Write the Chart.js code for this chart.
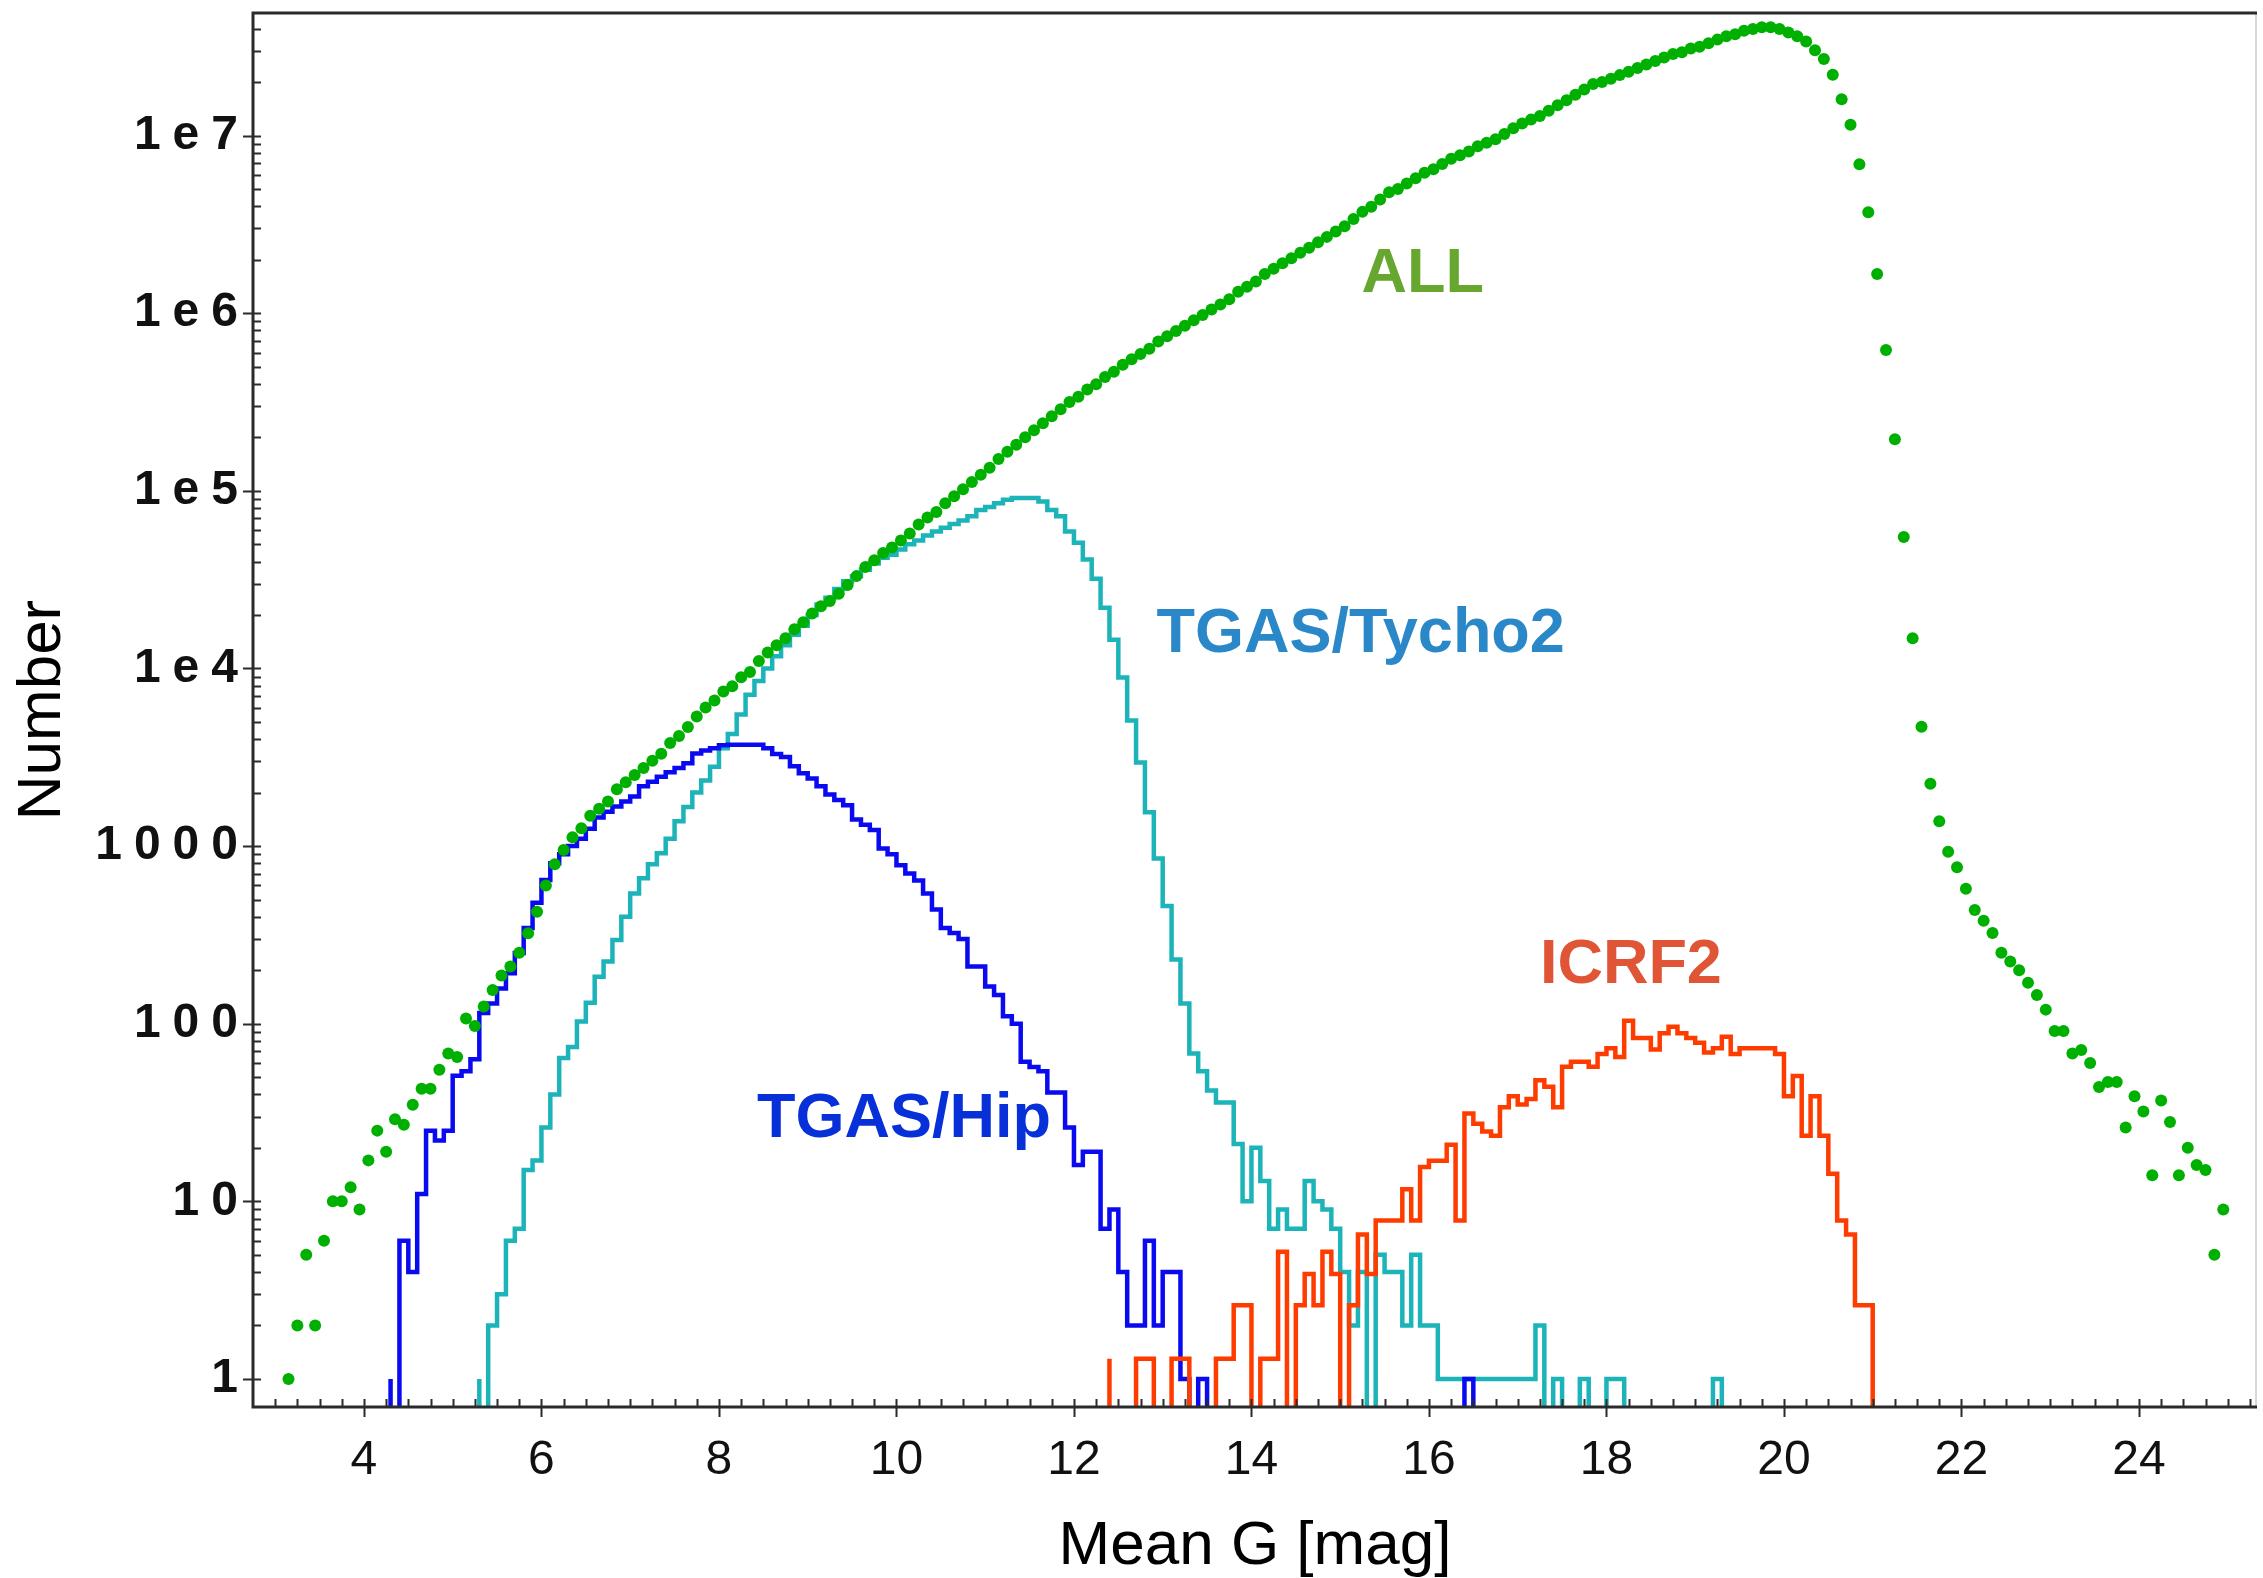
<!DOCTYPE html>
<html>
<head>
<meta charset="utf-8">
<script src="https://cdn.jsdelivr.net/npm/chart.js@4.4.1/dist/chart.umd.min.js"></script>
<style>
  html, body { margin: 0; padding: 0; background: #fff; }
  canvas { display: block; }
</style>
</head>
<body>
<canvas id="mag-hist" width="2263" height="1578"></canvas>
<script>
// histogram bins are 0.1 mag wide
const binWidth = 0.1;
// empty bins are drawn at this level, just under the axis
const logFloor = 0.5;

// ALL sources (dots at bin centres)
const allStart = 3.15;
const allCounts = [
  1, 2, 5, 2, 6, 10, 10, 12, 9, 17, 25, 19, 29, 27, 35, 43, 43, 55, 68, 65,
  107, 97, 125, 155, 187, 210, 251, 323, 427, 600, 790, 950, 1120, 1260, 1480, 1620, 1780, 2090, 2290, 2510,
  2750, 3020, 3310, 3800, 4170, 4680, 5370, 6030, 6610, 7410, 7940, 8910, 9550, 11000, 12300, 13500, 14800, 16600, 18200, 20400,
  22400, 24000, 26300, 29500, 33100, 37200, 40700, 44700, 47900, 52500, 57500, 64600, 70800, 75900, 85100, 93300, 102000, 112000, 123000, 135000,
  151000, 166000, 182000, 200000, 219000, 240000, 263000, 288000, 316000, 339000, 372000, 398000, 437000, 468000, 513000, 550000, 589000, 631000, 692000, 741000,
  794000, 851000, 912000, 977000, 1.05e6, 1.12e6, 1.20e6, 1.32e6, 1.41e6, 1.51e6, 1.66e6, 1.78e6, 1.91e6, 2.04e6, 2.19e6, 2.34e6, 2.51e6, 2.69e6, 2.88e6, 3.09e6,
  3.39e6, 3.72e6, 3.98e6, 4.37e6, 4.79e6, 5.01e6, 5.37e6, 5.75e6, 6.17e6, 6.46e6, 6.92e6, 7.41e6, 7.76e6, 8.13e6, 8.71e6, 9.12e6, 9.55e6, 1.02e7, 1.10e7, 1.17e7,
  1.23e7, 1.29e7, 1.38e7, 1.48e7, 1.58e7, 1.70e7, 1.82e7, 1.95e7, 2.00e7, 2.09e7, 2.19e7, 2.29e7, 2.40e7, 2.51e7, 2.63e7, 2.75e7, 2.88e7, 2.95e7, 3.09e7, 3.16e7,
  3.31e7, 3.47e7, 3.63e7, 3.72e7, 3.89e7, 3.98e7, 4.07e7, 4.07e7, 3.98e7, 3.80e7, 3.63e7, 3.39e7, 3.02e7, 2.70e7, 2.20e7, 1.60e7, 1.15e7, 6.9e6, 3.7e6, 1.66e6,
  6.2e5, 1.95e5, 5.5e4, 14800, 4700, 2240, 1380, 930, 760, 575, 437, 380, 324, 251, 224, 200, 170, 145, 120, 91,
  91, 68, 71, 60, 44, 47, 47, 26, 39, 32, 14, 37, 28, 14, 20, 16, 15, 5, 9
];

// TGAS / Tycho2 (bin left edges from tychoStart)
const tychoStart = 5.3;
const tychoCounts = [
  1, 0, 2, 3, 6, 7, 15, 17, 26, 40, 64, 74, 103, 131, 184, 224, 296,
  400, 540, 660, 790, 910, 1100, 1380, 1660, 2000, 2340,
  2800, 3550, 4270, 5500, 7100, 8500, 10000, 11700, 13500, 15500,
  17400, 20000, 22900, 25000, 28000, 31000, 33000, 36000, 39000, 42000,
  43600, 46800, 50000, 52500, 56000, 59000, 62000, 65000, 68000, 72000,
  78000, 81000, 85000, 89000, 91000, 91000, 91000, 87000, 78000, 72000,
  59000, 51000, 41000, 32000, 22000, 14500, 8900, 5100, 2950, 1550,
  850, 460, 230, 130, 68, 54, 42, 36, 36, 21,
  10, 20, 13, 7, 9, 7, 7, 13, 10, 9,
  7, 4, 2, 4, 0, 5, 4, 4, 2, 5,
  2, 2, 1, 1, 1, 1, 1, 1, 1, 1,
  1, 1, 1, 2, 0, 1, 0, 0, 1, 0,
  0, 1, 1, 0, 0, 0, 0, 0, 0, 0,
  0, 0, 0, 1
];

// TGAS / Hipparcos
const hipStart = 4.3;
const hipCounts = [
  1, 0, 6, 4, 11, 25, 22,
  25, 51, 54, 63, 115, 130, 158, 192, 250, 346,
  480, 645, 800, 900, 1000, 1100, 1250, 1450, 1560, 1670,
  1780, 1900, 2170, 2300, 2460, 2600, 2750, 2930, 3320, 3450,
  3550, 3700, 3720, 3720, 3720, 3720, 3550, 3300, 3170, 2810,
  2570, 2400, 2170, 1950, 1820, 1700, 1410, 1320, 1230, 970,
  900, 780, 700, 640, 540, 440, 346, 324, 300, 210,
  210, 162, 145, 110, 100, 61, 57, 54, 41, 41,
  26, 16, 19, 19, 7, 9, 4, 2, 2, 6,
  2, 4, 4, 1, 0, 1,
  0, 0, 0, 0, 0, 0, 0, 0, 0, 0,
  0, 0, 0, 0, 0, 0, 0, 0, 0, 0,
  0, 0, 0, 0, 0, 0, 0, 0, 0,
  1
];

// ICRF2 quasars
const icrfStart = 12.4;
const icrfCounts = [
  1.3, 0, 0, 0, 1.3, 1.3,
  0, 0, 1.3, 1.3, 0, 0, 0, 1.3, 1.3, 2.6,
  2.6, 0, 1.3, 1.3, 5.2, 0, 2.6, 3.9, 2.6, 5.2,
  3.9, 0, 2.6, 6.5, 3.9, 7.8, 7.8, 7.8, 11.7, 7.8,
  15.6, 16.9, 16.9, 20.8, 7.8, 31.2, 27.3, 24.7, 23.4, 33.8,
  39, 35.1, 37.7, 48.1, 44.2, 33.8, 57.2, 61.1, 61.1, 57.2,
  67.6, 72.8, 65, 104, 83.2, 83.2, 71.5, 88.4, 96.2, 88.4,
  83.2, 78, 68.9, 72.8, 84.5, 67.6, 72.8, 72.8, 72.8, 72.8,
  67.6, 39, 50.7, 23.4, 39, 23.4, 14.3, 7.8, 6.5, 2.6,
  2.6
];

// axes
const xTicks = [4, 6, 8, 10, 12, 14, 16, 18, 20, 22, 24];
const yTicks = [1, 10, 100, 1000, 1e4, 1e5, 1e6, 1e7];
const yTickText = ['1', '10', '100', '1000', '1e4', '1e5', '1e6', '1e7'];

// in-plot labels
const labelText = ['ALL', 'TGAS/Tycho2', 'ICRF2', 'TGAS/Hip'];
const labelMag = [15.24, 12.93, 17.25, 8.43];
const labelCount = [1.32e6, 1.245e4, 170, 23];
const labelColor = ['#67a72f', '#2b88c8', '#e05535', '#0730d9'];

const fontFamily = '"Liberation Sans", Arial, Helvetica, sans-serif';

function dotPoints(start, counts) {
  return counts.map((c, i) => ({x: +(start + i * binWidth).toFixed(2), y: c}));
}

// step outline of a histogram: rise at first edge, drop at last edge
function histPoints(start, counts) {
  const pts = [{x: start, y: logFloor}];
  counts.forEach((c, i) => pts.push({x: +(start + i * binWidth).toFixed(2), y: c > 0 ? c : logFloor}));
  pts.push({x: +(start + counts.length * binWidth).toFixed(2), y: logFloor});
  return pts;
}

// frame, inward tick marks and the coloured labels
const decorations = {
  id: 'decorations',
  afterDatasetsDraw(chart) {
    const {ctx, chartArea: a, scales: {x, y}} = chart;
    ctx.save();

    ctx.strokeStyle = '#d8d8d8';
    ctx.lineWidth = 2;
    ctx.beginPath();
    ctx.moveTo(a.right - 1, a.top);
    ctx.lineTo(a.right - 1, a.bottom);
    ctx.stroke();

    ctx.strokeStyle = '#2b2b2b';
    ctx.lineWidth = 3;
    ctx.beginPath();
    ctx.moveTo(a.right, a.top);
    ctx.lineTo(a.left, a.top);
    ctx.lineTo(a.left, a.bottom);
    ctx.lineTo(a.right, a.bottom);
    ctx.stroke();

    ctx.lineWidth = 2;
    ctx.beginPath();
    for (let k = 12; k <= 101; k++) {
      const v = k * 0.25;
      if (v < x.min || v > x.max) continue;
      const px = Math.round(x.getPixelForValue(v)) + 0.5;
      const major = xTicks.includes(v);
      ctx.moveTo(px, a.bottom - 8);
      ctx.lineTo(px, a.bottom + (major ? 10 : 0));
    }
    for (let d = 0; d <= 7; d++) {
      for (let m = 1; m <= 9; m++) {
        const v = m * Math.pow(10, d);
        if (v < y.min || v > y.max) continue;
        const py = Math.round(y.getPixelForValue(v)) + 0.5;
        ctx.moveTo(a.left - (m === 1 ? 10 : 0), py);
        ctx.lineTo(a.left + 8, py);
      }
    }
    ctx.stroke();

    ctx.font = 'bold 63px ' + fontFamily;
    ctx.textAlign = 'left';
    ctx.textBaseline = 'alphabetic';
    labelText.forEach((t, i) => {
      ctx.fillStyle = labelColor[i];
      ctx.fillText(t, x.getPixelForValue(labelMag[i]), y.getPixelForValue(labelCount[i]));
    });
    ctx.restore();
  }
};

const ctx = document.getElementById('mag-hist').getContext('2d');

new Chart(ctx, {
  type: 'line',
  data: {
    datasets: [
      {
        label: 'ALL',
        data: dotPoints(allStart, allCounts),
        showLine: false,
        pointRadius: 6,
        pointBorderWidth: 0,
        pointBackgroundColor: '#00b000',
        pointBorderColor: '#00b000',
      },
      {
        label: 'ICRF2',
        data: histPoints(icrfStart, icrfCounts),
        stepped: 'after',
        borderColor: '#ff3c00',
        borderWidth: 4.5,
        pointRadius: 0,
      },
      {
        label: 'TGAS/Hip',
        data: histPoints(hipStart, hipCounts),
        stepped: 'after',
        borderColor: '#0a0af0',
        borderWidth: 4.5,
        pointRadius: 0,
      },
      {
        label: 'TGAS/Tycho2',
        data: histPoints(tychoStart, tychoCounts),
        stepped: 'after',
        borderColor: '#1cb4b8',
        borderWidth: 4.5,
        pointRadius: 0,
      },
    ],
  },
  options: {
    responsive: false,
    animation: false,
    devicePixelRatio: 1,
    layout: { padding: { top: 13, right: 2, left: 0, bottom: 0 } },
    plugins: {
      legend: { display: false },
      tooltip: { enabled: false },
    },
    scales: {
      x: {
        type: 'linear',
        position: 'bottom',
        min: 2.75,
        max: 25.33,
        afterFit(scale) {
          scale.height = 171;
          scale.paddingLeft = 0;
          scale.paddingRight = 0;
        },
        afterBuildTicks(scale) { scale.ticks = xTicks.map(v => ({value: v})); },
        grid: { display: false, drawTicks: false },
        border: { display: false },
        ticks: {
          autoSkip: false,
          maxRotation: 0,
          padding: 25,
          color: '#111',
          font: { family: fontFamily, size: 48 },
        },
        title: {
          display: true,
          text: 'Mean G [mag]',
          color: '#000',
          padding: { top: 0, bottom: 0 },
          font: { family: fontFamily, size: 62, lineHeight: 1.0 },
        },
      },
      y: {
        type: 'logarithmic',
        min: 0.695,
        max: 4.9e7,
        afterFit(scale) {
          scale.width = 253;
          scale.paddingTop = 0;
          scale.paddingBottom = 0;
        },
        afterBuildTicks(scale) { scale.ticks = yTicks.map(v => ({value: v})); },
        grid: { display: false, drawTicks: false },
        border: { display: false },
        ticks: {
          autoSkip: false,
          padding: 15,
          color: '#111',
          font: { family: fontFamily, size: 48, weight: 'bold' },
          callback: (v, i) => yTickText[i].split('').join('\u2005'),
        },
        title: {
          display: true,
          text: 'Number',
          color: '#000',
          padding: { top: 6, bottom: 0 },
          font: { family: fontFamily, size: 62, lineHeight: 1.2 },
        },
      },
    },
  },
  plugins: [decorations],
});
</script>
</body>
</html>
